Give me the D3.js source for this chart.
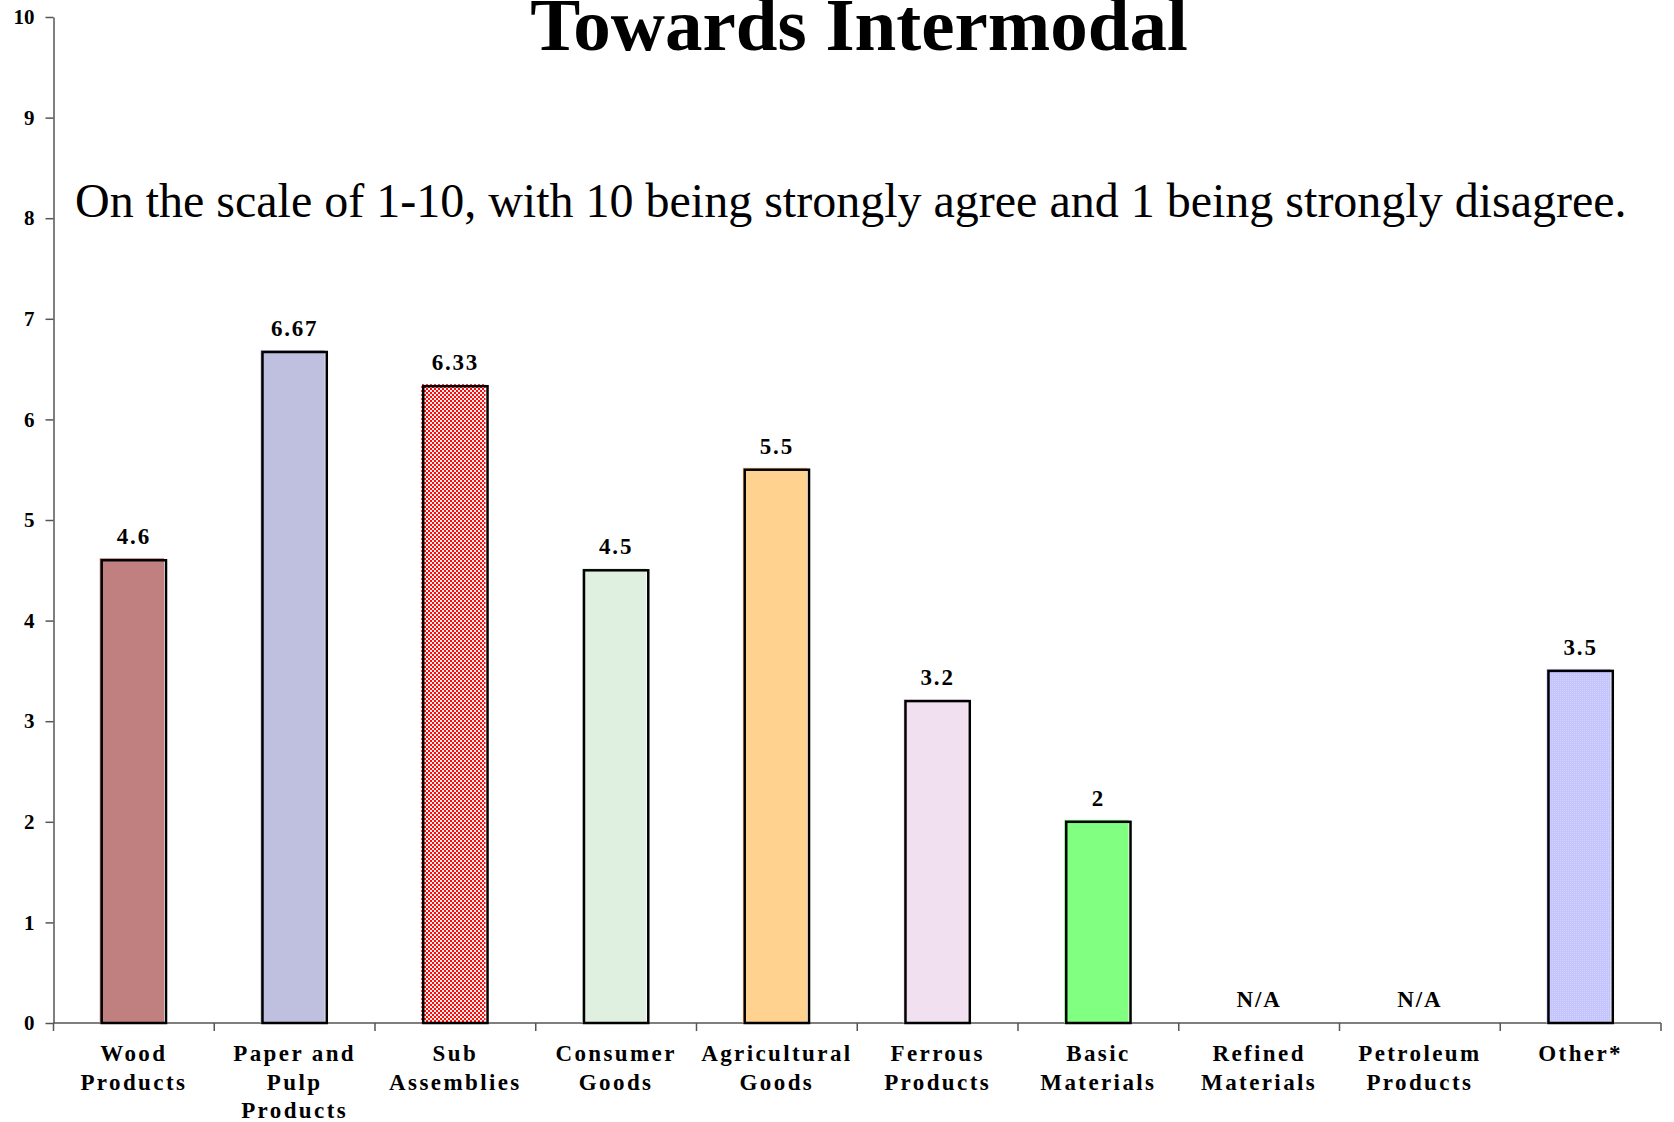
<!DOCTYPE html>
<html>
<head>
<meta charset="utf-8">
<script src="https://cdn.jsdelivr.net/npm/d3@7"></script>
<style>
  html, body { margin: 0; padding: 0; background: #fff; }
  svg { display: block; font-family: "Liberation Serif", "Times New Roman", serif; }
</style>
</head>
<body>
<svg id="chart" width="1674" height="1122"></svg>
<script>
// Survey categories and their average agreement scores (null = no responses)
const categories = [
  "Wood Products", "Paper and Pulp Products", "Sub Assemblies", "Consumer Goods",
  "Agricultural Goods", "Ferrous Products", "Basic Materials", "Refined Materials",
  "Petroleum Products", "Other*"
];
const labelLines = [
  ["Wood", "Products"], ["Paper and", "Pulp", "Products"], ["Sub", "Assemblies"],
  ["Consumer", "Goods"], ["Agricultural", "Goods"], ["Ferrous", "Products"],
  ["Basic", "Materials"], ["Refined", "Materials"], ["Petroleum", "Products"], ["Other*"]
];
const scores = [4.6, 6.67, 6.33, 4.5, 5.5, 3.2, 2, null, null, 3.5];
const fills = [
  "#C08080", "#BFBFDF", "url(#checkRed)", "#E0F0E0", "#FFD28F",
  "#F0E0F0", "#80FF80", "#FFFFFF", "#FFFFFF", "url(#ditherBlue)"
];
const yTicks = [0, 1, 2, 3, 4, 5, 6, 7, 8, 9, 10];
const titleText = "Towards Intermodal";
const subtitleText = "On the scale of 1-10, with 10 being strongly agree and 1 being strongly disagree.";

const svg = d3.select("#chart");

// Fill patterns
const defs = svg.append("defs");
const chk = defs.append("pattern").attr("id", "checkRed")
  .attr("patternUnits", "userSpaceOnUse").attr("width", 4).attr("height", 4);
chk.append("rect").attr("width", 4).attr("height", 4).attr("fill", "#FF0A0A");
chk.append("rect").attr("width", 2).attr("height", 2).attr("fill", "#F4F0F0");
chk.append("rect").attr("x", 2).attr("y", 2).attr("width", 2).attr("height", 2).attr("fill", "#F4F0F0");
const dit = defs.append("pattern").attr("id", "ditherBlue")
  .attr("patternUnits", "userSpaceOnUse").attr("width", 2).attr("height", 2);
dit.append("rect").attr("width", 2).attr("height", 2).attr("fill", "#C4C4FF");
dit.append("rect").attr("width", 1).attr("height", 1).attr("fill", "#D4D4FA");

// Scales
const x = d3.scaleBand().domain(categories).range([53.5, 1661]).padding(0);
const y = d3.scaleLinear().domain([0, 10]).range([1023, 17]);
const barW = x.bandwidth() * 0.4;

// Y axis
const yAxis = svg.append("g").attr("transform", `translate(${x.range()[0]},0)`)
  .call(d3.axisLeft(y).tickValues(yTicks).tickFormat(d3.format("d")).tickSize(8).tickSizeOuter(0).tickPadding(11));
yAxis.select(".domain").attr("stroke", "#555").attr("stroke-width", 1.5);
yAxis.selectAll(".tick line").attr("stroke", "#555").attr("stroke-width", 1.5);
yAxis.selectAll(".tick text")
  .attr("font-family", "Liberation Serif, serif")
  .attr("font-weight", "bold").attr("font-size", 21).attr("fill", "#000");

// X axis: baseline with boundary ticks between categories
const bounds = categories.map(c => x(c)).concat([x.range()[1]]);
const xAxis = svg.append("g");
xAxis.append("line")
  .attr("x1", x.range()[0]).attr("x2", x.range()[1])
  .attr("y1", y(0)).attr("y2", y(0))
  .attr("stroke", "#555").attr("stroke-width", 1.5);
xAxis.selectAll("line.bt").data(bounds).join("line").attr("class", "bt")
  .attr("x1", d => d).attr("x2", d => d)
  .attr("y1", y(0)).attr("y2", y(0) + 8)
  .attr("stroke", "#555").attr("stroke-width", 1.5);

// Category labels
const catLabels = xAxis.selectAll("text.cat").data(categories).join("text").attr("class", "cat")
  .attr("text-anchor", "middle")
  .attr("font-weight", "bold").attr("font-size", 23)
  .attr("letter-spacing", 2.4)
  .attr("fill", "#000");
catLabels.each(function(c, i) {
  const t = d3.select(this);
  labelLines[i].forEach((line, j) => {
    t.append("tspan")
      .attr("x", x(c) + x.bandwidth() / 2)
      .attr("y", 1061 + j * 28.5)
      .text(line);
  });
});

// Bars: colored face slightly offset from the black outline
const bars = svg.append("g");
const withVal = categories.map((c, i) => ({ c, v: scores[i], f: fills[i] })).filter(d => d.v !== null);
bars.selectAll("rect.face").data(withVal).join("rect").attr("class", "face")
  .attr("x", d => x(d.c) + (x.bandwidth() - barW) / 2 - 2)
  .attr("y", d => y(d.v) - 2)
  .attr("width", barW)
  .attr("height", d => y(0) - y(d.v) + 2)
  .attr("fill", d => d.f);
bars.selectAll("rect.edge").data(withVal).join("rect").attr("class", "edge")
  .attr("x", d => x(d.c) + (x.bandwidth() - barW) / 2)
  .attr("y", d => y(d.v))
  .attr("width", barW)
  .attr("height", d => y(0) - y(d.v))
  .attr("fill", "none").attr("stroke", "#000").attr("stroke-width", 2.5);

// Value labels
svg.append("g").selectAll("text").data(categories).join("text")
  .attr("x", c => x(c) + x.bandwidth() / 2)
  .attr("y", (c, i) => y(scores[i] === null ? 0 : scores[i]) - 16)
  .attr("text-anchor", "middle")
  .attr("font-weight", "bold").attr("font-size", 23).attr("letter-spacing", 1.8)
  .attr("fill", "#000")
  .text((c, i) => scores[i] === null ? "N/A" : String(scores[i]));

// Title and subtitle
svg.append("text").attr("x", 859).attr("y", 50)
  .attr("text-anchor", "middle").attr("font-weight", "bold").attr("font-size", 75)
  .attr("fill", "#000").text(titleText);
svg.append("text").attr("x", 75).attr("y", 217)
  .attr("font-size", 48).attr("fill", "#000").text(subtitleText);
</script>
</body>
</html>
